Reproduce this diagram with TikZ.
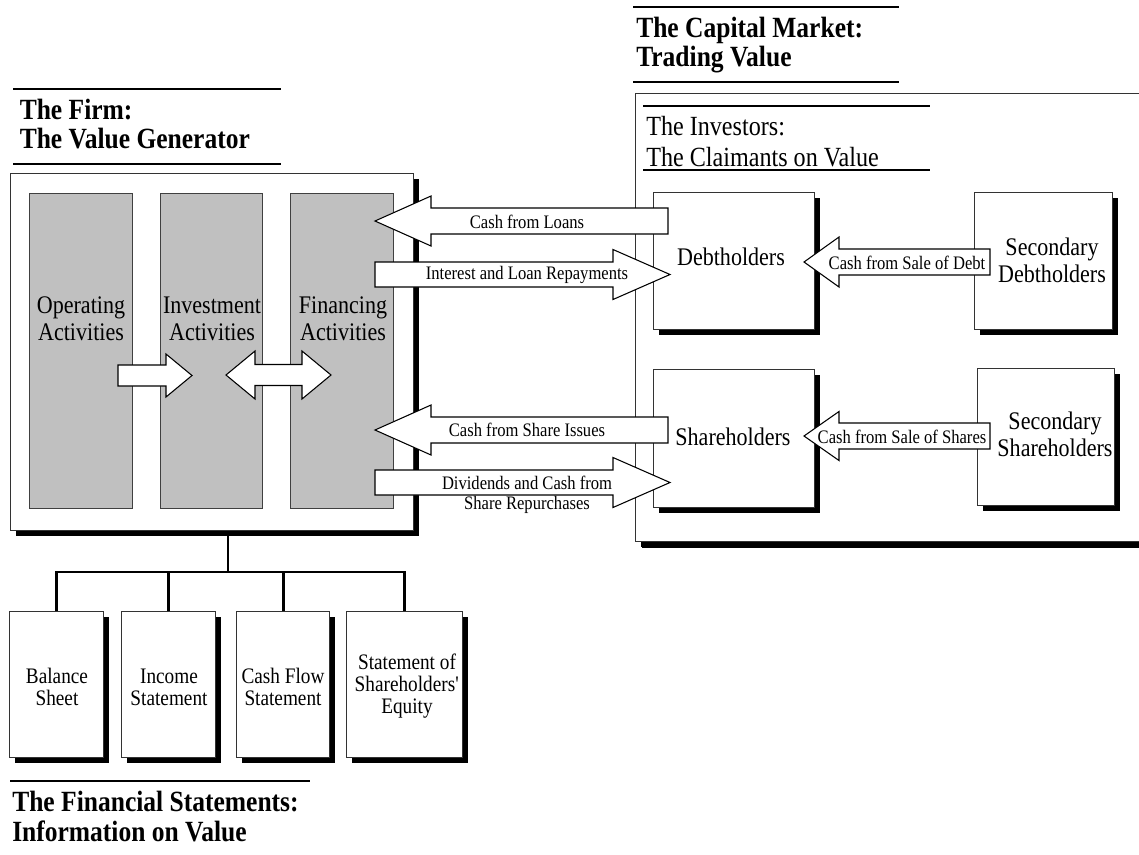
\documentclass[tikz,border=0pt]{standalone}
\usepackage{fontspec}
\setmainfont{Liberation Serif}[FakeStretch=0.87]
\usetikzlibrary{shadows}
\definecolor{colgray}{RGB}{192,192,192}
\newcommand{\blockarrow}[6]{\draw[blk] (#1,#4-#5) -- (#2,#4-#5) -- (#2,#4-#6) -- (#3,#4) -- (#2,#4+#6) -- (#2,#4+#5) -- (#1,#4+#5) -- cycle;}
\begin{document}
\begin{tikzpicture}[x=0.75pt,y=-0.75pt,
  wh/.style 2 args={minimum width=#1*0.75pt, minimum height=#2*0.75pt},
  box/.style={draw=black!80, line width=0.8pt, fill=white, inner sep=0pt, anchor=north west,
    drop shadow={shadow xshift=4pt, shadow yshift=-4pt, opacity=1, fill=black}},
  col/.style={draw=black!75, line width=0.7pt, fill=colgray, inner sep=0pt, anchor=north west},
  blk/.style={draw=black, line width=0.8pt, fill=white, line join=miter},
  rulel/.style={line width=2.2pt},
  conn/.style={line width=2.2pt},
  lbl/.style={font=\fontsize{19}{20.5}\selectfont, align=center, inner sep=0pt},
  albl/.style={font=\fontsize{14.3}{15}\selectfont, align=center, inner sep=0pt},
  slbl/.style={font=\fontsize{16.6}{16.5}\selectfont, align=center, inner sep=0pt},
  ttl/.style={font=\fontsize{22}{22}\selectfont\bfseries, anchor=base west, inner sep=0pt},
  ittl/.style={font=\fontsize{20.8}{22}\selectfont, anchor=base west, inner sep=0pt}]
\clip (0,0) rectangle (1139,854);

% titles
\draw[rulel] (13,89) -- (281,89);
\node[ttl] (ft1) at (19.5,119) {The Firm:};
\node[ttl] (ft2) at (19.5,148) {The Value Generator};
\draw[rulel] (13,164) -- (281,164);

\draw[rulel] (633,7) -- (899,7);
\node[ttl] (ct1) at (636,37) {The Capital Market:};
\node[ttl] (ct2) at (636,66) {Trading Value};
\draw[rulel] (633,82) -- (899,82);

\draw[rulel] (10,781) -- (310,781);
\node[ttl] (st1) at (12,811) {The Financial Statements:};
\node[ttl] (st2) at (12,841) {Information on Value};

% capital market box
\node[box, wh={520}{448}, drop shadow={shadow xshift=4.5pt, shadow yshift=-4.5pt, opacity=1, fill=black}] (inv) at (635,93) {};
\draw[line width=1.5pt] (643,106) -- (930,106);
\node[ittl] (it1) at (646,135) {The Investors:};
\node[ittl] (it2) at (646,166) {The Claimants on Value};
\draw[line width=1.5pt] (643,170) -- (930,170);

\node[box, wh={161}{137}] (debt) at (653,192) {};
\node[box, wh={138}{137}] (sdebt) at (974,192) {};
\node[box, wh={161}{138}] (share) at (653,369) {};
\node[box, wh={137}{137}] (sshare) at (977,368) {};

% connectors to statements
\coordinate (hub) at (228,572);
\node[box, wh={94}{146}] (bs) at (9,611) {};
\node[box, wh={94}{146}] (is) at (121,611) {};
\node[box, wh={93}{146}] (cf) at (236,611) {};
\node[box, wh={116}{146}] (se) at (346,611) {};
\draw[conn] (bs.north) |- (hub) -| (se.north);
\draw[conn] (is.north) -- (is.north |- hub);
\draw[conn] (cf.north) -- (cf.north |- hub);
\draw[conn] (hub) -- (hub |- 0,530);

% firm box
\node[box, wh={403}{357}] (firm) at (10,173) {};
\node[col, wh={103}{315}] (op) at (29,193) {};
\node[col, wh={102}{315}] (invc) at (160,193) {};
\node[col, wh={103}{315}] (fin) at (290,193) {};

% arrows
\blockarrow{118}{166}{192}{375.5}{10.5}{21.5}
\draw[blk] (226,375) -- (255,351) -- (255,364.5) -- (302,364.5) -- (302,351) -- (331,375)
  -- (302,399) -- (302,385.5) -- (255,385.5) -- (255,399) -- cycle;
\blockarrow{668}{431}{375}{221}{13}{25}
\blockarrow{375}{613}{670}{274.5}{12.5}{25}
\blockarrow{668}{431}{375}{430}{13}{25}
\blockarrow{375}{613}{670}{482.5}{12.5}{25}
\blockarrow{990}{839}{804}{262}{13}{25}
\blockarrow{990}{839}{804}{436}{13}{24.5}

% labels
\node[lbl] (opl) at (81,319) {Operating\\Activities};
\node[lbl] (invl) at (212,319) {Investment\\Activities};
\node[lbl] (finl) at (343,319) {Financing\\Activities};
\node[lbl] (debtl) at (731,257) {Debtholders};
\node[lbl] (sdebtl) at (1052,260) {Secondary\\Debtholders};
\node[lbl] (sharel) at (733,437) {Shareholders};
\node[lbl] (sshl) at (1055,434) {Secondary\\Shareholders};

\node[albl] (a1) at (527,222) {Cash from Loans};
\node[albl] (a2) at (527,275) {Interest and Loan Repayments};
\node[albl] (a3) at (527,430) {Cash from Share Issues};
\node[albl] (a4) at (527,495) {Dividends and Cash from\\Share Repurchases};
\node[albl] (a5) at (907,263) {Cash from Sale of Debt};
\node[albl] (a6) at (902,437) {Cash from Sale of Shares};

\node[slbl] (bsl) at (57,687) {Balance\\Sheet};
\node[slbl] (isl) at (169,687) {Income\\Statement};
\node[slbl] (cfl) at (283,687) {Cash Flow\\Statement};
\node[slbl] (sel) at (407,686) {Statement of\\Shareholders\textquotesingle\\Equity};
\end{tikzpicture}
\end{document}
